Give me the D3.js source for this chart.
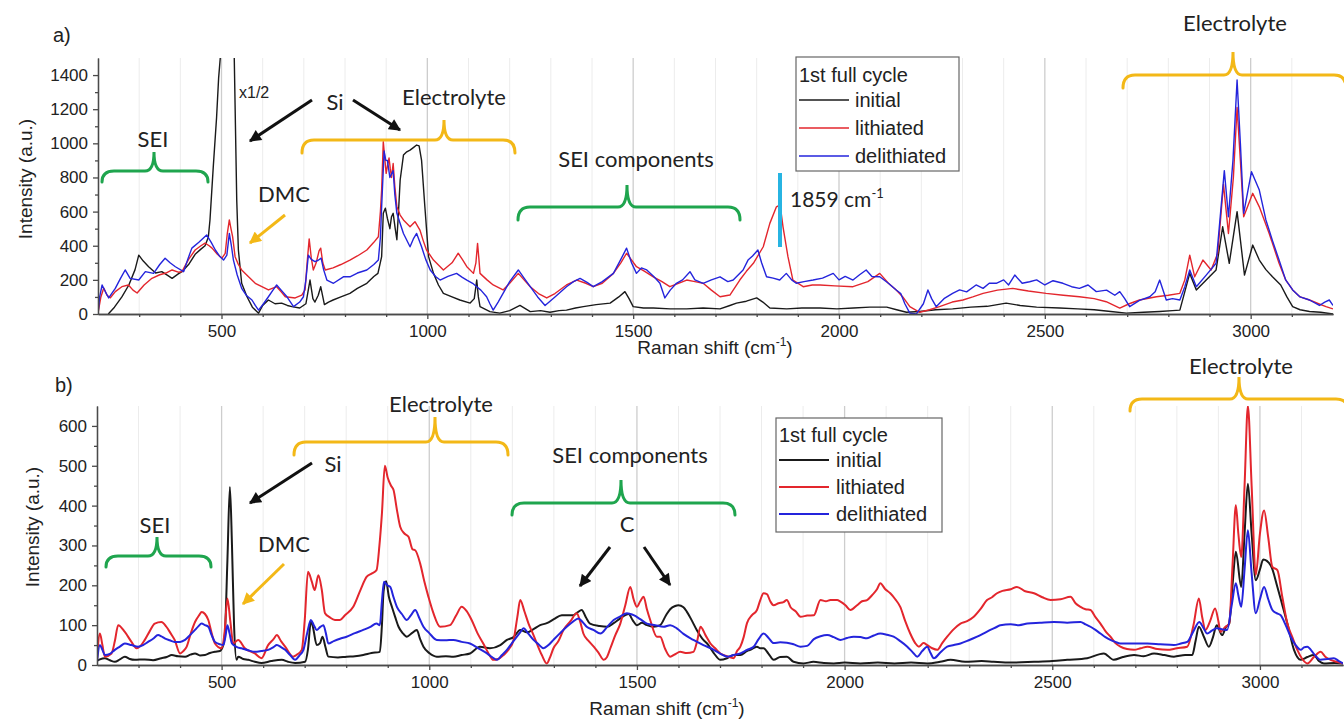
<!DOCTYPE html>
<html><head><meta charset="utf-8">
<script src="https://cdn.jsdelivr.net/npm/d3@7"></script>
<style>
body{margin:0;background:#fff;}
svg{display:block;}
.tick text{font-family:"Liberation Sans",Arial,sans-serif;font-size:17px;fill:#222;}
</style></head>
<body><svg id="chart" width="1344" height="720"></svg>
<script>
// ---------- DATA ----------
const seriesNames = ["initial","lithiated","delithiated"];
const xTickValues = [500,1000,1500,2000,2500,3000];
const topYTicks = [0,200,400,600,800,1000,1200,1400];
const botYTicks = [0,100,200,300,400,500,600];

const topInitial = [[225,0],[240,40],[258,100],[275,170],[290,260],[299,345],[310,310],[323,277],[340,240],[355,248],[370,225],[380,209],[395,235],[404,248],[420,290],[436,350],[450,380],[460,400],[468,450],[472,551],[480,862],[488,1150],[493,1382],[497,1500],[505,1700],[525,1700],[531,1500],[537,668],[541,375],[549,180],[562,101],[575,40],[590,5],[600,50],[614,82],[630,60],[646,64],[660,50],[671,43],[690,35],[705,60],[715,199],[722,90],[727,70],[735,110],[741,160],[750,55],[760,70],[771,82],[790,100],[812,121],[830,150],[853,180],[870,220],[880,238],[889,336],[893,590],[898,620],[903,560],[909,500],[913,570],[917,590],[922,500],[926,435],[930,600],[934,785],[942,931],[950,950],[958,960],[966,975],[974,990],[980,985],[986,900],[994,628],[1003,336],[1015,238],[1027,170],[1039,121],[1060,100],[1079,82],[1104,64],[1114,90],[1120,199],[1124,100],[1128,43],[1152,14],[1176,5],[1200,20],[1225,50],[1250,14],[1275,20],[1298,10],[1320,20],[1338,23],[1360,35],[1379,43],[1410,55],[1444,64],[1465,100],[1480,131],[1490,90],[1500,43],[1525,35],[1549,35],[1590,30],[1630,30],[1670,35],[1711,30],[1735,50],[1751,64],[1775,75],[1800,94],[1815,70],[1832,35],[1873,30],[1910,35],[1954,35],[1995,30],[2035,35],[2075,40],[2116,40],[2140,25],[2164,10],[2196,15],[2235,25],[2276,30],[2320,40],[2360,45],[2406,64],[2440,50],[2480,40],[2536,35],[2580,30],[2620,25],[2660,15],[2698,5],[2740,10],[2779,15],[2810,20],[2828,23],[2852,238],[2868,140],[2892,199],[2916,258],[2932,511],[2948,297],[2967,600],[2985,228],[3005,404],[3021,316],[3037,260],[3053,218],[3073,170],[3088,100],[3102,43],[3120,25],[3143,15],[3170,10],[3200,0]];

const topLithiated = [[200,5],[207,100],[214,152],[222,110],[230,95],[242,131],[258,160],[274,170],[285,140],[295,123],[312,170],[331,209],[350,230],[365,240],[380,258],[395,245],[404,248],[420,320],[436,375],[450,400],[460,415],[470,400],[477,386],[490,350],[501,327],[509,355],[514,470],[519,551],[523,500],[527,453],[533,336],[541,290],[549,258],[565,220],[582,180],[598,160],[614,141],[634,160],[645,130],[655,101],[679,94],[695,110],[703,141],[708,300],[713,440],[718,330],[723,258],[730,300],[737,370],[741,386],[746,300],[752,258],[771,270],[790,290],[812,316],[830,340],[853,375],[870,420],[881,453],[886,600],[889,726],[893,1010],[897,900],[900,824],[904,880],[907,914],[910,850],[913,800],[917,882],[921,750],[926,628],[934,580],[942,551],[958,511],[970,541],[982,492],[990,430],[998,375],[1015,316],[1039,258],[1060,300],[1075,356],[1085,320],[1096,277],[1112,238],[1118,300],[1122,414],[1125,330],[1128,238],[1145,200],[1160,170],[1184,141],[1200,180],[1221,238],[1235,200],[1250,160],[1270,120],[1290,94],[1310,120],[1338,170],[1363,199],[1385,180],[1403,160],[1425,180],[1452,238],[1470,300],[1484,356],[1495,320],[1508,277],[1528,250],[1549,218],[1570,190],[1589,160],[1610,180],[1630,199],[1650,190],[1670,180],[1690,140],[1711,101],[1735,111],[1759,199],[1775,250],[1792,297],[1816,394],[1832,531],[1848,628],[1857,640],[1864,511],[1876,336],[1888,199],[1913,160],[1935,170],[1954,170],[1990,165],[2034,160],[2070,190],[2099,238],[2120,180],[2139,141],[2155,100],[2172,43],[2196,10],[2220,25],[2244,43],[2275,70],[2301,82],[2325,100],[2350,121],[2385,140],[2422,150],[2460,135],[2503,121],[2545,110],[2584,101],[2620,90],[2649,72],[2682,35],[2705,60],[2730,82],[2771,101],[2800,110],[2828,121],[2840,200],[2852,345],[2864,218],[2884,316],[2904,258],[2920,356],[2934,760],[2946,472],[2958,800],[2967,1210],[2975,900],[2983,570],[3005,707],[3021,628],[3045,472],[3069,297],[3085,200],[3102,141],[3120,100],[3143,82],[3165,60],[3183,43],[3200,30]];

const topDelithiated = [[200,0],[204,100],[210,170],[218,130],[226,94],[242,150],[255,210],[266,258],[278,209],[299,199],[315,248],[335,238],[350,290],[363,327],[375,300],[388,277],[408,248],[418,320],[428,386],[445,420],[464,463],[475,420],[485,375],[495,340],[505,316],[513,345],[519,472],[524,400],[529,316],[538,230],[549,150],[560,110],[574,82],[582,50],[590,23],[602,60],[614,101],[625,140],[634,170],[645,140],[659,101],[675,43],[690,70],[699,101],[705,200],[711,345],[718,320],[727,307],[735,315],[742,327],[748,260],[756,199],[772,180],[796,218],[812,218],[830,240],[853,258],[870,290],[881,316],[886,450],[889,628],[895,955],[899,900],[903,900],[906,850],[909,800],[913,820],[917,840],[921,700],[926,590],[934,530],[942,472],[958,394],[966,440],[974,472],[986,394],[996,320],[1007,258],[1020,220],[1031,199],[1050,220],[1071,238],[1085,215],[1096,199],[1110,180],[1120,160],[1130,140],[1144,101],[1152,60],[1160,23],[1172,70],[1184,121],[1200,190],[1221,258],[1235,210],[1250,160],[1268,100],[1286,50],[1310,100],[1338,160],[1355,190],[1371,209],[1388,185],[1403,160],[1425,190],[1452,238],[1470,320],[1484,386],[1496,300],[1508,238],[1520,270],[1533,258],[1550,220],[1565,180],[1577,94],[1590,140],[1605,180],[1620,200],[1638,248],[1650,200],[1670,180],[1690,200],[1711,218],[1730,190],[1743,199],[1767,258],[1779,316],[1790,340],[1803,375],[1812,300],[1824,218],[1840,210],[1856,199],[1872,238],[1885,200],[1896,180],[1915,190],[1937,199],[1960,210],[1986,238],[2000,200],[2015,220],[2034,199],[2050,230],[2066,258],[2080,220],[2099,218],[2120,180],[2139,141],[2150,120],[2160,60],[2172,5],[2188,0],[2205,60],[2216,141],[2225,90],[2236,43],[2255,90],[2276,121],[2293,141],[2310,130],[2333,170],[2350,150],[2365,180],[2382,180],[2400,200],[2412,170],[2427,228],[2445,180],[2463,189],[2480,200],[2500,170],[2520,195],[2544,180],[2565,160],[2584,150],[2605,170],[2625,131],[2650,140],[2670,110],[2682,131],[2694,90],[2706,43],[2730,80],[2755,101],[2768,130],[2779,199],[2795,82],[2810,90],[2828,82],[2840,160],[2852,258],[2868,160],[2892,228],[2916,297],[2936,840],[2946,570],[2957,900],[2967,1371],[2975,1000],[2983,590],[3002,834],[3021,726],[3037,551],[3053,430],[3069,316],[3085,200],[3102,141],[3120,100],[3143,82],[3167,50],[3180,70],[3191,82],[3200,50]];

const botInitial = [[200,10],[207,14],[219,17],[231,12],[243,8],[255,14],[267,21],[279,15],[291,13],[315,14],[335,12],[355,17],[368,20],[380,25],[395,22],[412,21],[425,26],[436,29],[448,24],[460,25],[472,30],[484,33],[496,35],[504,50],[508,80],[514,263],[520,447],[525,300],[530,100],[536,13],[540,21],[552,15],[564,13],[580,8],[596,5],[620,10],[645,13],[660,8],[677,5],[701,8],[708,40],[715,110],[720,95],[729,50],[737,55],[743,71],[750,45],[757,21],[780,19],[801,21],[821,22],[841,25],[861,30],[881,33],[886,100],[890,185],[896,210],[903,170],[910,146],[918,120],[926,96],[936,80],[946,71],[958,80],[970,88],[978,65],[986,46],[1000,30],[1018,21],[1040,22],[1058,21],[1078,25],[1098,29],[1122,46],[1146,42],[1171,50],[1187,63],[1203,70],[1219,88],[1235,82],[1251,90],[1267,100],[1283,105],[1300,115],[1319,125],[1347,125],[1357,132],[1367,138],[1377,120],[1387,104],[1410,98],[1428,96],[1444,105],[1460,117],[1480,128],[1490,112],[1500,100],[1512,106],[1524,100],[1540,96],[1556,100],[1570,125],[1580,140],[1592,148],[1600,150],[1612,145],[1620,134],[1632,112],[1644,88],[1660,63],[1669,54],[1685,30],[1701,13],[1717,17],[1733,25],[1749,25],[1765,35],[1773,38],[1789,46],[1797,42],[1805,42],[1817,28],[1829,13],[1845,20],[1861,21],[1877,8],[1901,4],[1925,8],[1950,5],[1974,4],[2000,6],[2038,4],[2080,6],[2120,4],[2160,6],[2199,4],[2230,8],[2255,13],[2290,8],[2330,10],[2359,8],[2400,6],[2456,8],[2500,10],[2536,13],[2584,17],[2624,29],[2648,13],[2670,20],[2697,25],[2720,22],[2745,29],[2770,25],[2793,21],[2820,25],[2837,25],[2845,60],[2853,96],[2865,71],[2877,46],[2887,70],[2896,100],[2909,75],[2918,95],[2926,104],[2934,200],[2942,284],[2955,196],[2963,330],[2971,455],[2980,330],[2990,213],[3000,240],[3008,265],[3026,250],[3042,196],[3054,150],[3066,104],[3082,38],[3098,13],[3114,20],[3130,25],[3142,10],[3154,4],[3180,5],[3200,4]];

const botLithiated = [[200,13],[207,79],[213,50],[219,21],[235,29],[243,60],[251,100],[267,83],[283,58],[295,42],[305,48],[315,63],[327,85],[339,104],[355,108],[367,96],[377,80],[387,63],[400,29],[408,35],[416,46],[426,80],[436,108],[446,125],[452,133],[460,128],[468,113],[476,80],[484,54],[500,42],[507,80],[514,167],[521,110],[528,54],[540,63],[556,42],[580,29],[596,17],[612,50],[625,65],[633,75],[643,60],[653,46],[672,21],[680,25],[693,38],[700,110],[708,234],[717,210],[724,188],[733,225],[741,190],[749,130],[760,120],[773,113],[785,113],[797,125],[817,146],[835,190],[849,221],[862,230],[873,238],[880,300],[886,380],[893,500],[900,470],[908,450],[914,439],[922,390],[930,347],[940,330],[950,322],[960,290],[966,288],[978,255],[988,210],[998,171],[1010,130],[1026,96],[1050,100],[1065,125],[1078,146],[1090,135],[1102,113],[1116,80],[1130,54],[1145,25],[1154,13],[1166,15],[1179,25],[1192,40],[1203,63],[1212,120],[1219,163],[1229,135],[1239,104],[1249,80],[1259,54],[1271,25],[1283,4],[1291,20],[1299,42],[1311,60],[1323,88],[1340,110],[1355,130],[1363,110],[1371,79],[1384,60],[1396,46],[1408,30],[1420,13],[1428,20],[1436,42],[1448,75],[1460,104],[1472,150],[1484,196],[1492,165],[1500,146],[1508,160],[1516,171],[1524,140],[1532,113],[1548,71],[1556,71],[1568,40],[1580,21],[1592,27],[1604,33],[1620,30],[1636,33],[1645,60],[1653,96],[1665,75],[1677,54],[1690,40],[1701,29],[1717,22],[1733,17],[1741,35],[1749,46],[1757,70],[1765,105],[1777,125],[1789,138],[1797,163],[1805,180],[1813,178],[1821,160],[1829,150],[1841,155],[1853,158],[1861,163],[1870,145],[1882,135],[1894,121],[1910,124],[1926,125],[1942,163],[1955,160],[1966,163],[1982,163],[1990,159],[2002,150],[2014,138],[2030,150],[2042,160],[2054,163],[2066,175],[2078,190],[2086,205],[2098,190],[2110,180],[2122,165],[2134,146],[2146,110],[2158,79],[2170,55],[2179,46],[2190,55],[2199,50],[2211,42],[2223,38],[2235,55],[2247,71],[2263,90],[2279,104],[2295,110],[2311,121],[2327,140],[2343,163],[2355,170],[2367,180],[2380,186],[2400,190],[2415,196],[2435,185],[2456,180],[2476,170],[2496,163],[2520,165],[2544,171],[2556,155],[2568,146],[2580,140],[2592,138],[2604,120],[2616,104],[2628,85],[2640,71],[2652,55],[2664,46],[2680,40],[2697,38],[2713,42],[2729,46],[2753,40],[2777,38],[2800,42],[2825,46],[2840,100],[2853,167],[2861,120],[2869,88],[2880,110],[2892,142],[2900,110],[2905,83],[2916,95],[2926,104],[2934,250],[2942,401],[2948,330],[2955,271],[2963,450],[2971,650],[2980,450],[2990,226],[3000,330],[3010,388],[3020,320],[3030,246],[3042,238],[3054,170],[3066,104],[3078,70],[3090,38],[3102,15],[3114,4],[3130,20],[3146,33],[3158,20],[3170,13],[3185,8],[3200,4]];

const botDelithiated = [[200,8],[207,50],[213,38],[219,25],[231,28],[243,38],[255,46],[267,54],[283,50],[299,46],[311,50],[323,58],[335,66],[347,75],[355,72],[363,67],[375,62],[387,58],[400,58],[412,63],[424,75],[436,88],[444,97],[452,104],[460,100],[468,96],[476,75],[484,58],[496,52],[504,50],[509,70],[514,100],[519,80],[525,54],[537,45],[548,42],[564,37],[580,33],[596,35],[612,38],[625,45],[633,50],[643,45],[653,38],[665,25],[677,13],[688,25],[697,38],[706,80],[715,113],[722,100],[729,88],[737,95],[745,100],[751,80],[757,54],[770,60],[785,66],[801,71],[821,80],[841,88],[857,95],[873,104],[881,100],[886,160],[891,209],[899,200],[906,196],[914,170],[922,146],[934,128],[946,113],[956,125],[966,138],[976,118],[986,96],[1000,80],[1018,63],[1038,62],[1058,63],[1078,58],[1098,54],[1118,42],[1139,29],[1151,20],[1163,13],[1175,25],[1187,38],[1199,55],[1211,71],[1219,82],[1227,92],[1239,78],[1251,63],[1263,52],[1275,42],[1287,50],[1299,63],[1315,80],[1331,96],[1345,108],[1359,117],[1369,108],[1379,96],[1395,88],[1412,79],[1428,95],[1444,113],[1460,122],[1476,130],[1484,128],[1492,125],[1508,115],[1524,104],[1544,100],[1564,96],[1580,100],[1596,92],[1612,78],[1636,63],[1660,50],[1685,38],[1701,28],[1717,21],[1733,25],[1749,29],[1765,38],[1781,46],[1793,65],[1805,79],[1817,68],[1829,55],[1845,57],[1861,56],[1877,52],[1894,46],[1910,48],[1926,65],[1942,72],[1958,75],[1974,70],[1990,63],[2006,68],[2022,71],[2038,70],[2054,67],[2070,74],[2086,79],[2102,76],[2118,71],[2134,60],[2151,46],[2163,33],[2175,21],[2187,35],[2199,46],[2207,30],[2215,17],[2231,32],[2247,46],[2263,50],[2279,54],[2299,62],[2319,71],[2343,84],[2367,96],[2375,100],[2400,102],[2420,100],[2440,104],[2470,106],[2504,108],[2536,106],[2568,108],[2580,102],[2592,96],[2604,88],[2616,79],[2628,70],[2640,63],[2652,58],[2664,54],[2697,54],[2729,54],[2760,52],[2793,50],[2810,54],[2825,58],[2840,85],[2854,108],[2863,95],[2873,79],[2884,86],[2896,92],[2908,90],[2921,88],[2932,150],[2942,205],[2948,175],[2955,146],[2963,240],[2971,338],[2980,230],[2990,130],[3000,165],[3010,196],[3020,165],[3030,138],[3040,130],[3050,125],[3062,100],[3074,71],[3086,50],[3098,38],[3106,44],[3114,46],[3130,28],[3146,13],[3162,15],[3178,17],[3190,10],[3200,4]];

// ---------- DRAW ----------
const svg = d3.select("#chart");
const colors = {initial:"#1a1a1a", lithiated:"#e3262d", delithiated:"#2424dc"};
const GREEN="#1fa54e", GOLD="#f3b817", CYAN="#27b4e2";
const ANN = "Lato, 'Open Sans', sans-serif";
const AX = "'Liberation Sans', Arial, sans-serif";
const fmt = d3.format("d");

const defs = svg.append("defs");
function marker(id, color){
  defs.append("marker").attr("id",id).attr("viewBox","0 0 10 10").attr("refX",9).attr("refY",5)
    .attr("markerWidth",13).attr("markerHeight",12).attr("markerUnits","userSpaceOnUse").attr("orient","auto")
    .append("path").attr("d","M0,0 L10,5 L0,10 Z").attr("fill",color);
}
marker("ahBlack","#111"); marker("ahGold",GOLD);

function panel(o){
  const g = svg.append("g");
  const x = d3.scaleLinear().domain([200,3200]).range(o.xr);
  const y = d3.scaleLinear().domain(o.yd).range(o.yr);
  const gridVals = d3.range(300,3200,100);
  g.selectAll(".grid").data(gridVals).join("line")
    .attr("x1",d=>x(d)).attr("x2",d=>x(d)).attr("y1",o.yr[1]).attr("y2",o.yr[0])
    .attr("stroke",d=>d%500===0?"#cdcdcd":"#ececec").attr("stroke-width",d=>d%500===0?1.3:1);
  defs.append("clipPath").attr("id",o.id).append("rect")
    .attr("x",o.xr[0]).attr("y",o.yr[1]).attr("width",o.xr[1]-o.xr[0]).attr("height",o.yr[0]-o.yr[1]);
  const line = d3.line().x(d=>x(d[0])).y(d=>y(d[1])).curve(o.curve);
  const lg = g.append("g").attr("clip-path",`url(#${o.id})`);
  o.series.forEach((s,i)=>{
    lg.append("path").datum(s).attr("d",line).attr("fill","none")
      .attr("stroke",colors[seriesNames[i]]).attr("stroke-width",o.lw).attr("stroke-linejoin","round");
  });
  const xa = g.append("g").attr("transform",`translate(0,${o.yr[0]})`)
    .call(d3.axisBottom(x).tickValues(xTickValues).tickFormat(fmt).tickSize(5).tickSizeOuter(0).tickPadding(6));
  const xm = g.append("g").attr("transform",`translate(0,${o.yr[0]})`)
    .call(d3.axisBottom(x).tickValues(gridVals.filter(d=>d%500!==0)).tickSize(3).tickFormat("").tickSizeOuter(0));
  const ya = g.append("g").attr("transform",`translate(${o.xr[0]},0)`)
    .call(d3.axisLeft(y).tickValues(o.yt).tickFormat(fmt).tickSize(5).tickSizeOuter(0).tickPadding(5));
  const ym = g.append("g").attr("transform",`translate(${o.xr[0]},0)`)
    .call(d3.axisLeft(y).tickValues(o.ym).tickSize(3).tickFormat("").tickSizeOuter(0));
  [xa,xm,ya,ym].forEach(a=>{a.selectAll("path,line").attr("stroke","#4a4a4a").attr("stroke-width",1.3);});
  return {x,y,g};
}

const topPanel = panel({id:"clipTop", xr:[98,1333], yr:[314,58], yd:[0,1500], yt:topYTicks,
  ym:d3.range(100,1500,200), series:[topInitial,topLithiated,topDelithiated], lw:1.4, curve:d3.curveLinear});
const botPanel = panel({id:"clipBot", xr:[97,1343], yr:[665,406], yd:[0,650], yt:botYTicks,
  ym:d3.range(50,650,100), series:[botInitial,botLithiated,botDelithiated], lw:2, curve:d3.curveMonotoneX});

function txt(x,y,s,size,fam,anchor,fill){
  return svg.append("text").attr("x",x).attr("y",y).text(s).attr("font-size",size)
    .attr("font-family",fam).attr("text-anchor",anchor||"start").attr("fill",fill||"#222");
}
txt(53,42,"a)",20,AX); txt(55,392,"b)",20,AX);
[[32,179],[39,527]].forEach(([cx,cy])=>{
  svg.append("text").attr("transform",`translate(${cx},${cy}) rotate(-90)`).attr("text-anchor","middle")
    .attr("font-family",AX).attr("font-size",19).attr("fill","#222").text("Intensity (a.u.)");
});
function xTitle(cx,y){
  const t = svg.append("text").attr("x",cx).attr("y",y).attr("text-anchor","middle")
    .attr("font-family",AX).attr("font-size",19).attr("fill","#222");
  t.append("tspan").text("Raman shift (cm");
  t.append("tspan").text("-1").attr("font-size",12).attr("dy",-8);
  t.append("tspan").text(")").attr("dy",8);
}
xTitle(715,354); xTitle(667,715);

function brace(x0,x1,xc,yEnd,yBar,yTip,color){
  const r = 12, r2 = 9;
  const d = `M${x0},${yEnd} Q${x0},${yBar} ${x0+r},${yBar} L${xc-r2},${yBar} Q${xc},${yBar} ${xc},${yTip} `+
            `Q${xc},${yBar} ${xc+r2},${yBar} L${x1-r},${yBar} Q${x1},${yBar} ${x1},${yEnd}`;
  svg.append("path").attr("d",d).attr("fill","none").attr("stroke",color).attr("stroke-width",3)
    .attr("stroke-linecap","round");
}
function arrow(x1,y1,x2,y2,m,color){
  svg.append("line").attr("x1",x1).attr("y1",y1).attr("x2",x2).attr("y2",y2)
    .attr("stroke",color).attr("stroke-width",3).attr("marker-end",`url(#${m})`);
}
brace(102,208,154,182,171,152,GREEN); txt(153,147,"SEI",22,ANN,"middle");
brace(302,515,444,153,140,120,GOLD); txt(454,105,"Electrolyte",22,ANN,"middle");
txt(335,110,"Si",22,ANN,"middle");
arrow(312,100,250,141,"ahBlack","#111"); arrow(353,100,400,130,"ahBlack","#111");
txt(239,98,"x1/2",16,AX);
txt(284,202,"DMC",22,ANN,"middle"); arrow(285,215,250,243,"ahGold",GOLD);
brace(518,740,627,220,207,185,GREEN); txt(636,167,"SEI components",22,ANN,"middle");
svg.append("line").attr("x1",780).attr("x2",780).attr("y1",173).attr("y2",247).attr("stroke",CYAN).attr("stroke-width",4);
{const t=txt(790,207,"1859 cm",21,ANN); t.append("tspan").text("-1").attr("font-size",13).attr("dy",-9);}
brace(1123,1346,1233,88,75,52,GOLD); txt(1235,31,"Electrolyte",22,ANN,"middle");
brace(106,211,157,567,556,537,GREEN); txt(155,533,"SEI",22,ANN,"middle");
brace(294,508,435,455,442,417,GOLD); txt(441,412,"Electrolyte",22,ANN,"middle");
txt(333,472,"Si",22,ANN,"middle"); arrow(312,463,250,503,"ahBlack","#111");
txt(284,552,"DMC",22,ANN,"middle"); arrow(284,564,243,604,"ahGold",GOLD);
brace(512,735,621,515,503,480,GREEN); txt(630,463,"SEI components",22,ANN,"middle");
txt(627,532,"C",22,ANN,"middle");
arrow(610,547,580,586,"ahBlack","#111"); arrow(644,547,670,585,"ahBlack","#111");
brace(1130,1348,1239,411,399,377,GOLD); txt(1241,374,"Electrolyte",22,ANN,"middle");

function legend(x,y,w,h,lx1,lx2,tx,ty,dy,lw){
  svg.append("rect").attr("x",x).attr("y",y).attr("width",w).attr("height",h)
    .attr("fill","#fff").attr("stroke","#666").attr("stroke-width",1.2);
  txt(lx1,ty,"1st full cycle",20,AX);
  seriesNames.forEach((n,i)=>{
    const yy = ty+18+i*dy;
    svg.append("line").attr("x1",lx1).attr("x2",lx2).attr("y1",yy).attr("y2",yy)
      .attr("stroke",colors[n]).attr("stroke-width",lw);
    txt(tx,yy+7,n,20,AX);
  });
}
legend(796,57,163,114,799,849,855,82,28,1.4);
legend(776,418,166,114,779,829,836,442,27,2);
</script></body></html>
